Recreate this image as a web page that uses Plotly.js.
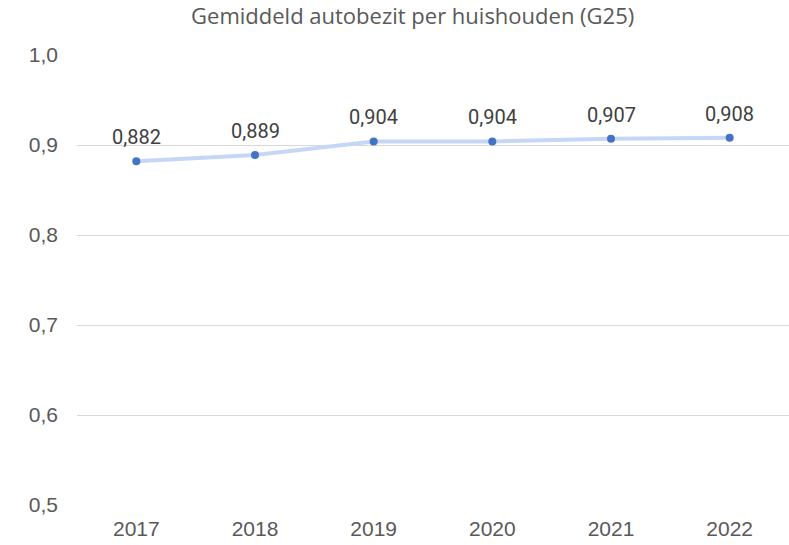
<!DOCTYPE html>
<html><head><meta charset="utf-8">
<script src="https://cdn.plot.ly/plotly-3.0.1.min.js"></script>
<style>html,body{margin:0;padding:0;background:#fff}#chart{width:789px;height:545px}</style>
</head><body><div id="chart"></div>
<script>
const years = ['2017','2018','2019','2020','2021','2022'];
const autobezit = [0.882, 0.889, 0.904, 0.904, 0.907, 0.908];
const yTicks = [0.5, 0.6, 0.7, 0.8, 0.9, 1.0];

const trace = {
  x: years, y: autobezit, type: 'scatter', mode: 'lines+markers',
  line: {color: '#c5d7f5', width: 4},
  marker: {color: '#4472c4', size: 8},
  hoverinfo: 'skip'
};
const labels = years.map((yr, i) => ({
  x: i, y: autobezit[i], xref: 'x', yref: 'y',
  text: autobezit[i].toFixed(3).replace('.', ','),
  showarrow: false, yanchor: 'middle', yshift: 24,
  font: {family: 'Roboto, sans-serif', size: 20, color: '#404040'}
}));
const layout = {
  width: 789, height: 545,
  margin: {l: 77, r: 0, t: 55, b: 40},
  separators: ', ',
  paper_bgcolor: '#fff', plot_bgcolor: '#fff',
  showlegend: false,
  annotations: labels,
  title: {text: 'Gemiddeld autobezit per huishouden (G25)', xref: 'container', x: 0.523, xanchor: 'center', y: 0.97, yanchor: 'middle',
    font: {family: 'Open Sans, sans-serif', size: 22, color: '#595959'}},
  xaxis: {type: 'category', range: [-0.5, 5.5], showgrid: false, zeroline: false, showline: false,
    tickfont: {family: 'Liberation Sans, Arial, sans-serif', size: 21, color: '#595959'}, ticks: '', ticklabelstandoff: 9},
  yaxis: {range: [0.5, 1.0], tickvals: yTicks, tickformat: '.1f', gridcolor: '#d9d9d9', gridwidth: 1,
    zeroline: false, showline: false, ticks: '', ticklabelstandoff: 18,
    tickfont: {family: 'Liberation Sans, Arial, sans-serif', size: 21, color: '#595959'}}
};
Plotly.newPlot('chart', [trace], layout, {displayModeBar: false, staticPlot: true});
</script></body></html>
